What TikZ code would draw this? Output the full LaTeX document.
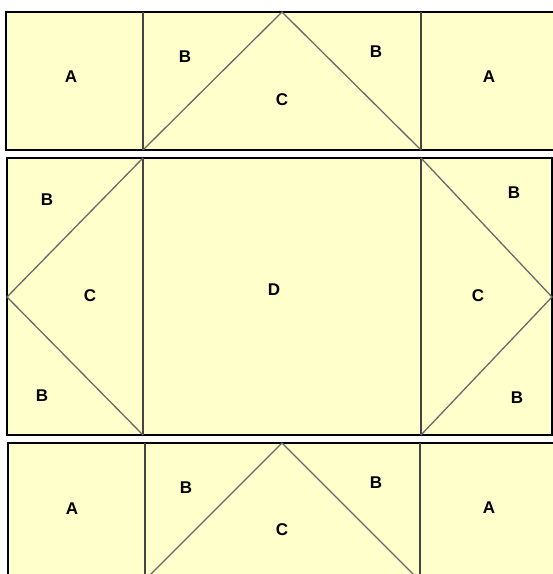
\documentclass[tikz,border=0pt]{standalone}
\usepackage{fontspec}
\setmainfont{Liberation Sans}
\definecolor{patch}{HTML}{FFFFCC}
\definecolor{seam}{HTML}{444444}
\begin{document}
\begin{tikzpicture}[x=1pt,y=-1pt,
  frame/.style={draw=black,line width=1.3pt,fill=patch},
  seamline/.style={draw=seam,line width=1.6pt},
  diag/.style={draw=seam!80,line width=1.3pt},
  lbl/.style={font=\fontsize{17}{17}\selectfont\bfseries,inner sep=0pt}]
\useasboundingbox (0,0) rectangle (553,574);
\clip (0,0) rectangle (553,574);
% top band
\path[frame] (6,12) rectangle (560,150);
\coordinate (t1) at (143,12); \coordinate (t1b) at (143,150);
\coordinate (t2) at (421,12); \coordinate (t2b) at (421,150);
\coordinate (tapex) at (282,12);
\draw[seamline] (t1) -- (t1b);
\draw[seamline] (t2) -- (t2b);
\draw[diag] (t1b) -- (tapex) -- (t2b);
\node[lbl] (tA1) at (71,77) {A};
\node[lbl] (tB1) at (185,57) {B};
\node[lbl] (tC) at (282,100) {C};
\node[lbl] (tB2) at (376,52) {B};
\node[lbl] (tA2) at (489,77) {A};
% middle band
\path[frame] (7,158) rectangle (552,435);
\coordinate (m1) at (143,158); \coordinate (m1b) at (143,435);
\coordinate (m2) at (421,158); \coordinate (m2b) at (421,435);
\coordinate (ml) at (7,297); \coordinate (mr) at (552,297);
\draw[seamline] (m1) -- (m1b);
\draw[seamline] (m2) -- (m2b);
\draw[diag] (m1) -- (ml) -- (m1b);
\draw[diag] (m2) -- (mr) -- (m2b);
\node[lbl] (mB1) at (47,200) {B};
\node[lbl] (mC1) at (90,296) {C};
\node[lbl] (mB2) at (42,396) {B};
\node[lbl] (mD) at (274,290) {D};
\node[lbl] (mC2) at (478,296) {C};
\node[lbl] (mB3) at (514,193) {B};
\node[lbl] (mB4) at (517,398) {B};
% bottom band
\path[frame] (8,443) rectangle (560,590);
\coordinate (b1) at (145,443); \coordinate (b1b) at (145,590);
\coordinate (b2) at (420,443); \coordinate (b2b) at (420,590);
\coordinate (bapex) at (282,443);
\coordinate (bl) at (135,590); \coordinate (br) at (429,590);
\draw[seamline] (b1) -- (b1b);
\draw[seamline] (b2) -- (b2b);
\draw[diag] (bl) -- (bapex) -- (br);
\node[lbl] (bA1) at (72,509) {A};
\node[lbl] (bB1) at (186,488) {B};
\node[lbl] (bC) at (282,530) {C};
\node[lbl] (bB2) at (376,483) {B};
\node[lbl] (bA2) at (489,508) {A};
\end{tikzpicture}
\end{document}
